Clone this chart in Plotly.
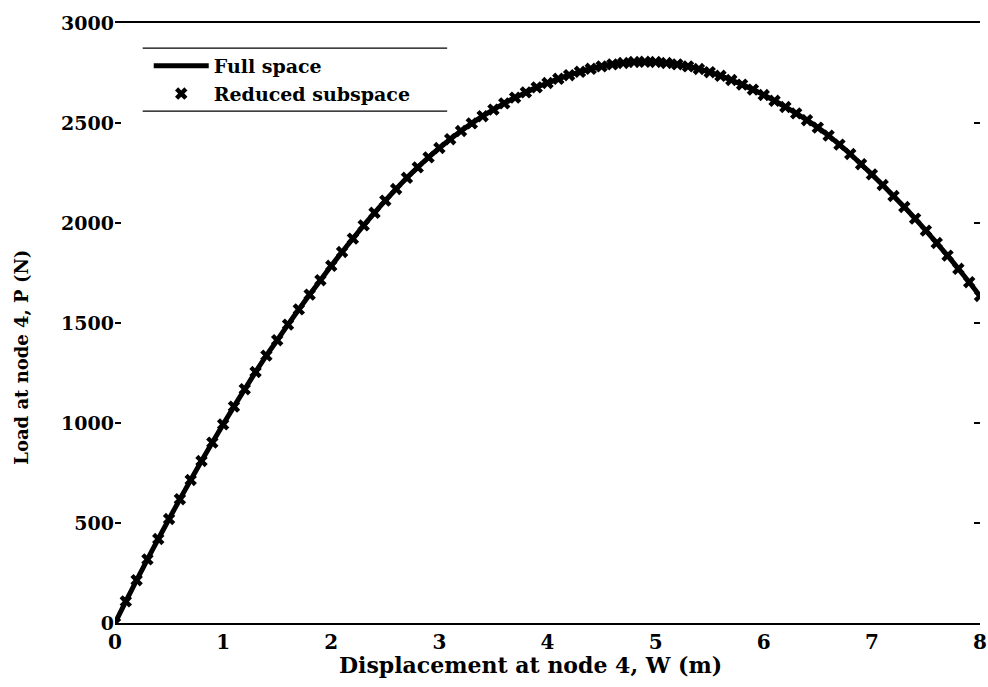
import plotly.graph_objects as go

# Displacement at node 4, W (m)
w_disp = [0.0, 0.1, 0.2, 0.3, 0.4, 0.5, 0.6, 0.7, 0.8, 0.9,
          1.0, 1.1, 1.2, 1.3, 1.4, 1.5, 1.6, 1.7, 1.8, 1.9,
          2.0, 2.1, 2.2, 2.3, 2.4, 2.5, 2.6, 2.7, 2.8, 2.9,
          3.0, 3.1, 3.2, 3.3, 3.4, 3.5, 3.6, 3.7, 3.8, 3.9,
          4.0, 4.1, 4.2, 4.3, 4.4, 4.5, 4.6, 4.7, 4.8, 4.9,
          5.0, 5.1, 5.2, 5.3, 5.4, 5.5, 5.6, 5.7, 5.8, 5.9,
          6.0, 6.1, 6.2, 6.3, 6.4, 6.5, 6.6, 6.7, 6.8, 6.9,
          7.0, 7.1, 7.2, 7.3, 7.4, 7.5, 7.6, 7.7, 7.8, 7.9, 8.0]

# Load at node 4, P (N) - full space solution
load_full = [0, 108, 214, 318, 420, 520, 619, 715, 810, 902,
             993, 1082, 1169, 1255, 1337, 1414, 1492, 1568, 1642, 1714,
             1786, 1855, 1922, 1988, 2051, 2112, 2170, 2226, 2278, 2328,
             2375, 2419, 2460, 2498, 2534, 2567, 2598, 2627, 2653, 2678,
             2700, 2721, 2739, 2756, 2771, 2783, 2793, 2800, 2805, 2806,
             2805, 2800, 2793, 2783, 2770, 2754, 2736, 2715, 2692, 2667,
             2640, 2611, 2580, 2548, 2514, 2477, 2437, 2392, 2345, 2294,
             2243, 2190, 2135, 2080, 2022, 1962, 1900, 1837, 1771, 1704, 1635]

# Load at node 4, P (N) - reduced subspace solution (coincides with full space)
load_reduced = list(load_full)

x_ticks = [0, 1, 2, 3, 4, 5, 6, 7, 8]
y_ticks = [0, 500, 1000, 1500, 2000, 2500, 3000]

FONT = "DejaVu Serif"

fig = go.Figure()
fig.add_trace(go.Scatter(
    x=w_disp, y=load_full, mode="lines", name="Full space",
    line=dict(color="black", width=5, shape="spline", smoothing=0.6),
))
fig.add_trace(go.Scatter(
    x=w_disp, y=load_reduced, mode="markers", name="Reduced subspace",
    marker=dict(symbol="x", size=11, color="black", line=dict(width=0)),
))

# legend frame: only top and bottom rules
for yv in (0.958, 0.853):
    fig.add_shape(type="line", xref="paper", yref="paper",
                  x0=0.032, x1=0.384, y0=yv, y1=yv,
                  line=dict(color="black", width=1.2))

fig.add_annotation(text="<b>Displacement at node 4, W (m)</b>",
                   xref="paper", yref="paper", x=0.48, y=-0.07,
                   xanchor="center", yanchor="middle", showarrow=False,
                   font=dict(family=FONT, size=22, color="black"))
fig.add_annotation(text="<b>Load at node 4, P (N)</b>",
                   xref="paper", yref="paper", x=-0.108, y=0.443,
                   xanchor="center", yanchor="middle", showarrow=False,
                   textangle=-90,
                   font=dict(family=FONT, size=18, color="black"))

fig.update_layout(
    width=988, height=687,
    template="none",
    paper_bgcolor="white", plot_bgcolor="white",
    margin=dict(l=115, r=8, t=23, b=64),
    showlegend=True,
    legend=dict(x=0.039, y=0.96, xanchor="left", yanchor="top",
                bgcolor="rgba(0,0,0,0)", borderwidth=0,
                font=dict(family=FONT, size=19, color="black", weight="bold"),
                itemwidth=55, tracegroupgap=0),
    xaxis=dict(range=[0, 8], tickvals=x_ticks, ticktext=[str(v) for v in x_ticks],
               showgrid=False, zeroline=False, showline=True, mirror=True,
               linecolor="black", linewidth=1.5, ticks="", automargin=False,
               ticklabeloverflow="allow",
               tickfont=dict(family=FONT, size=20, color="black", weight="bold")),
    yaxis=dict(range=[0, 3000], tickvals=y_ticks, ticktext=[str(v) for v in y_ticks],
               showgrid=False, zeroline=False, showline=False, mirror="ticks",
               ticks="inside", ticklen=6, tickwidth=1.5, tickcolor="black",
               automargin=False,
               tickfont=dict(family=FONT, size=19, color="black", weight="bold")),
)

fig.write_html("out.html")
